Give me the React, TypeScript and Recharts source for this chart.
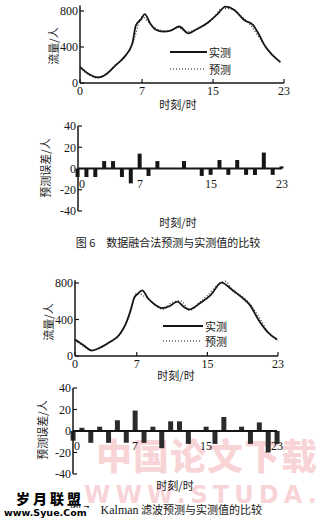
import React from 'react';
import { LineChart, Line, BarChart, Bar, XAxis, YAxis, ReferenceLine } from 'recharts';

const SERIF = '"Liberation Serif", "DejaVu Serif", serif';
const CJK = '"Noto Sans CJK SC", "Noto Sans CJK JP", sans-serif';
const INK = '#161616';

const HOUR_TICKS = [0, 7, 15, 23];
const FLOW_TICKS = [0, 400, 800];
const ERR_TICKS = [-40, -20, 0, 20, 40];
const HOURS = [0, 1, 2, 3, 4, 5, 6, 7, 8, 9, 10, 11, 12, 13, 14, 15, 16, 17, 18, 19, 20, 21, 22, 23];

// 图6 数据融合法
const fusionActualHours = [0, 1, 2, 3, 4, 5, 5.9, 6.3, 6.9, 7.3, 7.9, 8.5, 9.4, 10.3, 11.2, 12.2, 13.2, 14.4, 15.5, 16.4, 17.4, 18.5, 19.5, 20.1, 20.9, 21.7, 22.6];
const fusionActual = [180, 100, 62, 100, 195, 290, 440, 640, 710, 765, 665, 595, 570, 585, 628, 552, 600, 670, 765, 848, 812, 700, 645, 552, 405, 310, 232];
const fusionPredHours = [0, 1, 2, 3, 4, 5, 6, 7, 8, 9, 10, 11, 12, 13, 14, 15, 16, 17, 18, 19, 20, 21, 22, 22.6];
const fusionPred = [172, 90, 54, 107, 202, 282, 456, 735, 648, 587, 580, 620, 572, 590, 638, 714, 828, 824, 752, 669, 534, 395, 284, 226];
const fusionErr = [-8, -8, -8, 7, 7, -8, -14, 14, -7, 7, 0, 0, 7, 0, -7, -6, 8, -6, 8, -6, -6, 15, -6, 2];

// 图7 Kalman 滤波
const kalmanActualHours = [0, 1, 1.9, 2.9, 4, 5, 5.7, 6.3, 6.7, 7.1, 7.6, 8.3, 9.1, 9.8, 10.7, 11.6, 12.3, 12.9, 14.2, 15.4, 16.6, 17.8, 18.8, 19.8, 20.8, 21.8, 22.9];
const kalmanActual = [180, 115, 60, 95, 155, 230, 340, 500, 635, 680, 720, 630, 560, 525, 545, 595, 540, 510, 580, 670, 805, 725, 650, 560, 395, 265, 180];
const kalmanPredHours = [0, 1, 2, 3, 4, 5, 6, 7, 8, 9, 10, 11, 12, 13, 14, 15, 16, 17, 18, 19, 20, 21, 22, 23];
const kalmanPred = [172, 104, 63, 92, 159, 219, 410, 690, 645, 564, 509, 589, 604, 498, 580, 662, 767, 820, 700, 650, 548, 403, 245, 168];
const kalmanErr = [-9, 3, -11, 4, -11, 10, -11, 19, -11, 4, -16, 9, 9, -12, 0, 4, -12, 13, 0, 4, -12, 8, -20, -12];

const toPoints = (hs: number[], vs: number[]) => hs.map((h, i) => ({ h, v: vs[i] }));

const numTick = { fill: INK, fontSize: 12, fontFamily: SERIF };

function Title({ x, y, text, vertical, size = 11 }: { x: number; y: number; text: string; vertical?: boolean; size?: number }) {
  return (
    <div
      style={{
        position: 'absolute',
        left: x,
        top: y,
        transform: `translate(-50%, -50%)${vertical ? ' rotate(-90deg)' : ''}`,
        whiteSpace: 'nowrap',
        fontFamily: CJK,
        fontSize: size,
        color: INK,
        lineHeight: 1,
      }}
    >
      {text}
    </div>
  );
}

function LineLegend({ x, y1, y2, solidLen, dotLen }: { x: number; y1: number; y2: number; solidLen: number; dotLen: number }) {
  return (
    <svg style={{ position: 'absolute', left: 0, top: 0 }} width={321} height={526}>
      <line x1={x} x2={x + solidLen} y1={y1} y2={y1} stroke={INK} strokeWidth={1.8} />
      <line x1={x} x2={x + dotLen} y1={y2} y2={y2} stroke={INK} strokeWidth={1.2} strokeDasharray="1 2" />
      <text x={x + solidLen + 2} y={y1} dominantBaseline="central" fontFamily={CJK} fontSize={11} fill={INK}>实测</text>
      <text x={x + solidLen + 2} y={y2} dominantBaseline="central" fontFamily={CJK} fontSize={11} fill={INK}>预测</text>
    </svg>
  );
}

type FlowProps = {
  top: number; axisX: number; plotRight: number; y800: number; zeroY: number; yMax: number;
  actual: { h: number; v: number }[]; predicted: { h: number; v: number }[];
};

function FlowChart({ top, axisX, plotRight, y800, zeroY, yMax, actual, predicted }: FlowProps) {
  const xAxisH = 16;
  const plotH = ((zeroY - y800) * yMax) / 800;
  const height = zeroY - top + xAxisH;
  return (
    <div style={{ position: 'absolute', left: 0, top }}>
      <LineChart width={321} height={height} margin={{ top: zeroY - top - plotH, right: 321 - plotRight, bottom: 0, left: 0 }}>
        <XAxis
          type="number" dataKey="h" domain={[0, 23]} ticks={HOUR_TICKS} interval={0} height={xAxisH}
          tickSize={-4} tickMargin={7} axisLine={{ stroke: INK, strokeWidth: 1.5 }} tickLine={{ stroke: INK, strokeWidth: 1.2 }} tick={numTick}
        />
        <YAxis
          type="number" domain={[0, yMax]} ticks={FLOW_TICKS} interval={0} width={axisX}
          tickSize={-4} tickMargin={6} axisLine={{ stroke: INK, strokeWidth: 1.5 }} tickLine={{ stroke: INK, strokeWidth: 1.2 }} tick={numTick}
        />
        <Line data={predicted} dataKey="v" type="monotone" stroke="#333" strokeWidth={1.2} strokeDasharray="1 2" dot={false} isAnimationActive={false} />
        <Line data={actual} dataKey="v" type="monotone" stroke={INK} strokeWidth={1.8} dot={false} isAnimationActive={false} />
      </LineChart>
    </div>
  );
}

type ErrProps = {
  top: number; axisX: number; plotRight: number; plotTop: number; plotBottom: number;
  errors: number[]; barSize: number; fill: string;
};

function ErrorChart({ top, axisX, plotRight, plotTop, plotBottom, errors, barSize, fill }: ErrProps) {
  const rows = HOURS.map((h, i) => ({ h, e: errors[i] }));
  const bottomPad = 10;
  const height = plotBottom - top + 1 + bottomPad;
  const half = (plotBottom - plotTop) / 2;
  return (
    <div style={{ position: 'absolute', left: 0, top }}>
      <BarChart width={321} height={height} data={rows} margin={{ top: plotTop - top, right: 321 - plotRight, bottom: bottomPad, left: 0 }}>
        <XAxis
          type="number" dataKey="h" domain={[0, 23]} ticks={HOUR_TICKS} interval={0} height={1}
          axisLine={false} tickLine={false} tickSize={0} tickMargin={0}
          tick={(p: any) => (
            <text
              x={p.payload.value === 0 ? p.x + 1 : p.x}
              y={p.y - half + 19}
              textAnchor={p.payload.value === 0 ? 'start' : 'middle'}
              fontFamily={SERIF} fontSize={12} fill={INK}
            >
              {p.payload.value}
            </text>
          )}
        />
        <YAxis
          type="number" domain={[-40, 40]} ticks={ERR_TICKS} interval={0} width={axisX}
          tickSize={-4} tickMargin={6} axisLine={{ stroke: INK, strokeWidth: 1.5 }} tickLine={{ stroke: INK, strokeWidth: 1.2 }} tick={numTick}
        />
        <ReferenceLine y={0} stroke={INK} strokeWidth={1.8} />
        <Bar dataKey="e" fill={fill} barSize={barSize} isAnimationActive={false} />
      </BarChart>
    </div>
  );
}

function Watermark() {
  const pink = 'rgba(236, 130, 140, 0.35)';
  return (
    <>
      <div style={{ position: 'absolute', left: 96, top: 436, fontFamily: CJK, fontWeight: 900, fontSize: 36, color: pink, letterSpacing: 1, whiteSpace: 'nowrap', lineHeight: 1 }}>
        中国论文下载
      </div>
      <div style={{ position: 'absolute', left: 84, top: 483, fontFamily: '"DejaVu Sans", sans-serif', fontWeight: 'bold', fontSize: 24, color: pink, letterSpacing: 5, whiteSpace: 'nowrap', lineHeight: 1 }}>
        WWW.STUDA.
      </div>
    </>
  );
}

export default function App() {
  return (
    <div style={{ position: 'absolute', left: 0, top: 0, width: 321, height: 526, background: '#fff', overflow: 'hidden' }}>
      <Watermark />

      <FlowChart top={0} axisX={80} plotRight={284} y800={11} zeroY={83} yMax={860}
        actual={toPoints(fusionActualHours, fusionActual)} predicted={toPoints(fusionPredHours, fusionPred)} />
      <LineLegend x={170} y1={52} y2={69} solidLen={37} dotLen={34} />
      <Title x={53} y={46} text="流量/人" vertical />
      <Title x={178} y={104} text="时刻/时" />

      <ErrorChart top={115} axisX={78} plotRight={282} plotTop={126} plotBottom={211} errors={fusionErr} barSize={4} fill={INK} />
      <Title x={45} y={168} text="预测误差/人" vertical />
      <Title x={178} y={222} text="时刻/时" />
      <Title x={168} y={242} text="图 6　数据融合法预测与实测值的比较" />

      <FlowChart top={268} axisX={75} plotRight={278} y800={283} zeroY={356} yMax={830}
        actual={toPoints(kalmanActualHours, kalmanActual)} predicted={toPoints(kalmanPredHours, kalmanPred)} />
      <LineLegend x={163} y1={326} y2={341} solidLen={40} dotLen={37} />
      <Title x={48} y={322} text="流量/人" vertical />
      <Title x={176} y={375} text="时刻/时" />

      <ErrorChart top={378} axisX={73} plotRight={277} plotTop={388} plotBottom={474} errors={kalmanErr} barSize={5} fill="#2b2b2b" />
      <Title x={42} y={430} text="预测误差/人" vertical />
      <Title x={175} y={485} text="时刻/时" />

      <div style={{ position: 'absolute', left: 70, top: 504, fontFamily: CJK, fontSize: 11, color: INK, whiteSpace: 'nowrap', lineHeight: 1 }}>
        图 7　<span style={{ fontFamily: SERIF, fontSize: 12 }}>Kalman</span> 滤波预测与实测值的比较
      </div>
      <div style={{ position: 'absolute', left: 16, top: 491, fontFamily: CJK, fontWeight: 900, fontSize: 14, color: '#000', letterSpacing: 3, whiteSpace: 'nowrap', lineHeight: 1, background: '#fff' }}>
        岁月联盟
      </div>
      <div style={{ position: 'absolute', left: 3, top: 508, fontFamily: '"DejaVu Sans", sans-serif', fontWeight: 'bold', fontSize: 9.5, color: '#000', whiteSpace: 'nowrap', lineHeight: 1, background: '#fff', padding: '0 1px' }}>
        www.Syue.Com
      </div>
    </div>
  );
}
